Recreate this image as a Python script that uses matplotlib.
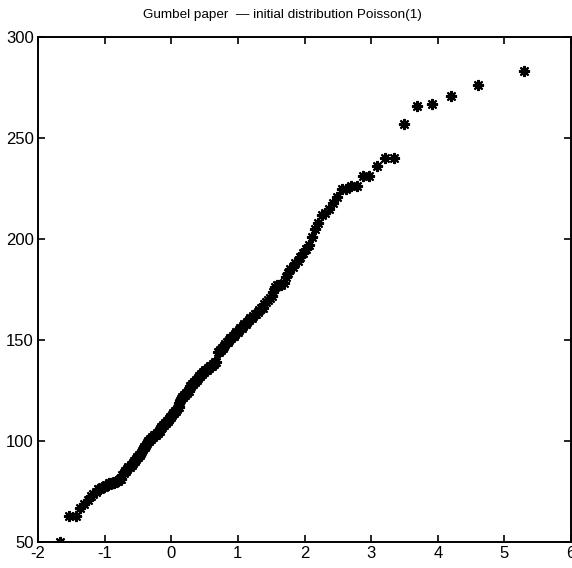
import numpy as np
import matplotlib
matplotlib.use('Agg')
import matplotlib.pyplot as plt

# Sorted sample of 200 maxima, plotted on Gumbel paper
maxima = [
    50, 63, 63, 67, 69, 71, 73, 74, 75, 76,
    76, 77, 77, 78, 78, 79, 79, 79, 79, 80,
    80, 80, 81, 81, 83, 84, 85, 85, 86, 87,
    87, 88, 88, 89, 90, 90, 91, 92, 92, 93,
    93, 94, 95, 96, 97, 97, 98, 99, 100, 100,
    101, 101, 102, 102, 103, 103, 103, 104, 104, 105,
    105, 106, 107, 107, 108, 108, 109, 109, 110, 110,
    111, 111, 112, 112, 113, 114, 114, 115, 115, 116,
    117, 117, 119, 120, 121, 122, 122, 123, 123, 124,
    124, 125, 125, 126, 127, 127, 128, 128, 129, 129,
    130, 130, 131, 132, 132, 133, 133, 134, 134, 135,
    135, 135, 136, 136, 137, 137, 137, 138, 138, 139,
    139, 144, 144, 145, 145, 146, 146, 147, 148, 149,
    149, 150, 151, 151, 152, 152, 153, 154, 154, 155,
    156, 156, 157, 158, 158, 159, 160, 161, 161, 162,
    163, 163, 164, 165, 166, 166, 168, 169, 170, 171,
    172, 174, 176, 177, 177, 177, 178, 181, 183, 185,
    186, 188, 189, 191, 193, 195, 197, 201, 205, 208,
    212, 213, 215, 218, 221, 225, 225, 226, 226, 231,
    231, 236, 240, 240, 257, 266, 267, 271, 276, 283,
]

x_ticks = [-2, -1, 0, 1, 2, 3, 4, 5, 6]
y_ticks = [50, 100, 150, 200, 250, 300]

# Gumbel reduced variate of the plotting positions i/(n+1)
n = len(maxima)
ranks = np.arange(1, n + 1)
gumbel_x = -np.log(-np.log(ranks / (n + 1)))

plt.rcParams['font.family'] = ['Liberation Sans', 'DejaVu Sans']
plt.rcParams['axes.unicode_minus'] = False

fig = plt.figure(figsize=(5.72, 5.68), dpi=100)
ax = fig.add_axes([38 / 572, 1 - 542 / 568, 533 / 572, 505 / 568])

ax.plot(gumbel_x, maxima, linestyle='none', marker=(8, 2, 0),
        markersize=8, markeredgewidth=1.5, color='black')

ax.set_xlim(-2, 6)
ax.set_ylim(50, 300)
ax.set_xticks(x_ticks)
ax.set_yticks(y_ticks)
ax.tick_params(direction='in', top=True, right=True, length=5,
               width=1.2, labelsize=12, pad=3)
for s in ax.spines.values():
    s.set_linewidth(1.4)

fig.text(282 / 572, 1 - 15 / 568, 'Gumbel paper  \u2014 initial distribution Poisson(1)',
         ha='center', va='center', fontsize=9.7)

fig.savefig('out.png', dpi=100)
